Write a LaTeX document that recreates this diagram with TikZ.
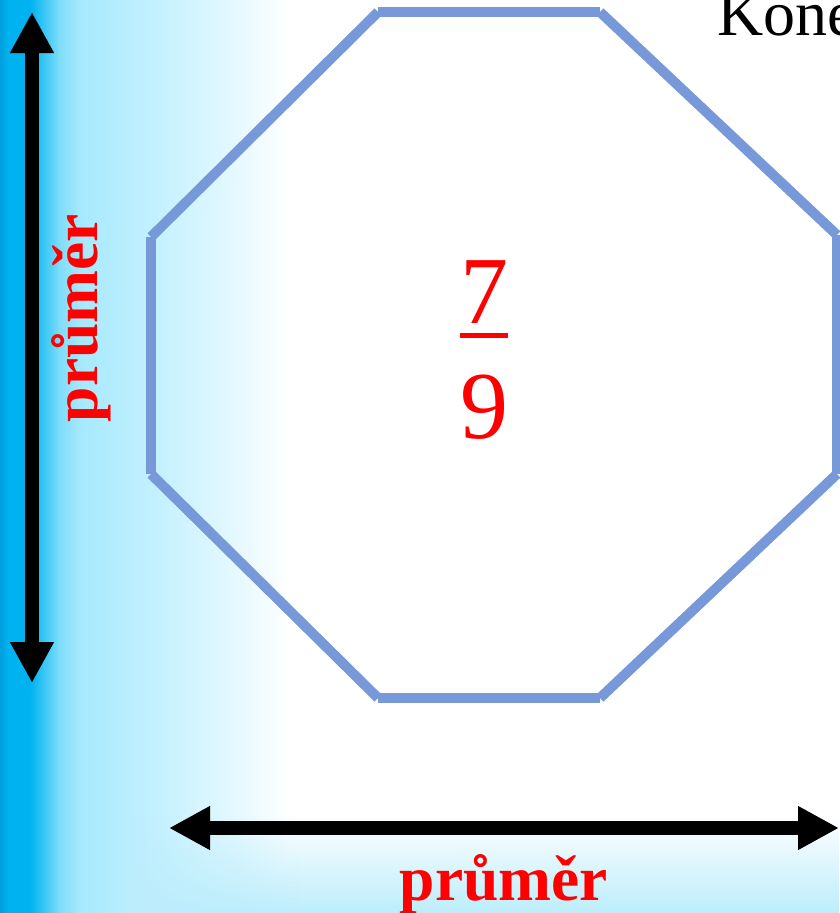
\documentclass[tikz,border=0pt]{standalone}
\usepackage{fontspec}
\setmainfont{Liberation Serif}
\usetikzlibrary{arrows.meta,fadings}
\definecolor{octblue}{HTML}{7799D9}
\definecolor{cyA}{HTML}{009EDC}
\definecolor{cyB}{HTML}{00B2F0}
\definecolor{cyC}{HTML}{3DC8F5}
\definecolor{cyD}{HTML}{80DDFA}
\definecolor{cyE}{HTML}{A6E9FE}
\definecolor{cyF}{HTML}{BAEEFE}
\definecolor{cyG}{HTML}{CEF3FF}
\definecolor{cyH}{HTML}{E2F8FF}
\definecolor{floorblue}{HTML}{BCEDFC}
% left band: 25bp..75bp spans x = 0..300 px
\pgfdeclarehorizontalshading{sideband}{100bp}{color(0bp)=(cyA); color(25bp)=(cyA);
  color(26.3bp)=(cyB); color(30bp)=(cyB); color(32.5bp)=(cyC); color(35bp)=(cyD);
  color(38.3bp)=(cyE); color(46.7bp)=(cyF); color(55bp)=(cyG); color(63.3bp)=(cyH);
  color(73.3bp)=(white); color(100bp)=(white)}
\tikzfading[name=fadeup, top color=transparent!100, bottom color=transparent!0]
\tikzset{
  dimarr/.style={{Triangle[length=41pt,width=41pt]}-{Triangle[length=41pt,width=41pt]},line width=14pt,black},
  octside/.style={line width=10pt,octblue},
  dimlbl/.style={font=\fontsize{63.5}{70}\selectfont\bfseries,text=red,inner sep=0pt,anchor=base},
  fracdigit/.style={font=\fontsize{96}{100}\selectfont,text=red,inner sep=0pt,anchor=base},
}
\begin{document}
\begin{tikzpicture}[x=1pt,y=-1pt]
  \useasboundingbox (0,0) rectangle (839,913);
  % background
  \shade[shading=sideband] (0,0) rectangle (300,913);
  \fill[floorblue,path fading=fadeup] (130,815) rectangle (839,913);
  % title, cut at the right edge
  \node[font=\fontsize{64}{70}\selectfont,inner sep=0pt,anchor=base west] (title) at (717,35) {Kone};
  % octagon corners
  \coordinate (o1) at (378,12);  \coordinate (o2) at (600,12);
  \coordinate (o3) at (837,235); \coordinate (o4) at (837,474);
  \coordinate (o5) at (600,698); \coordinate (o6) at (378,698);
  \coordinate (o7) at (151,474); \coordinate (o8) at (151,237);
  \foreach \a/\b in {o1/o2,o2/o3,o3/o4,o4/o5,o5/o6,o6/o7,o7/o8,o8/o1}
    \draw[octside] (\a) -- (\b);
  % fraction
  \node[fracdigit] (num) at (484,323) {7};
  \node[fracdigit] (den) at (484,438) {9};
  \coordinate (barl) at (460,335.5); \coordinate (barr) at (508,335.5);
  \draw[red,line width=5pt] (barl) -- (barr);
  % dimension arrows
  \coordinate (vtop) at (32,12);   \coordinate (vbot) at (32,683);
  \coordinate (hlft) at (169,828); \coordinate (hrgt) at (839,828);
  \draw[dimarr] (vtop) -- (vbot);
  \draw[dimarr] (hlft) -- (hrgt);
  \node[dimlbl,rotate=90] (vlbl) at (97,318) {průměr};
  \node[dimlbl] (hlbl) at (504,900) {průměr};
\end{tikzpicture}
\end{document}
